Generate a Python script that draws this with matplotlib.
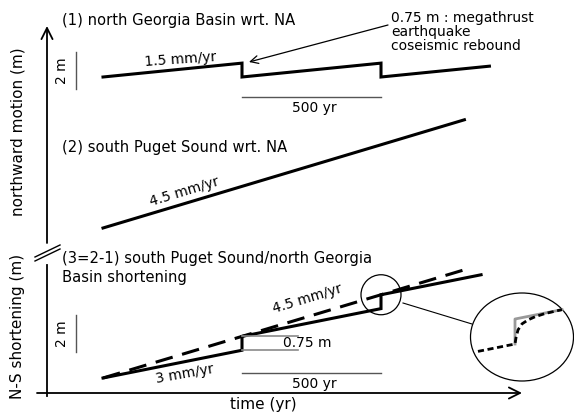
import numpy as np
import matplotlib
matplotlib.use("Agg")
import matplotlib.pyplot as plt
from matplotlib.patches import Ellipse, Circle
from matplotlib.transforms import Affine2D

# ---------------- data ----------------
rate_ngb = 1.5        # mm/yr  (1) north Georgia Basin wrt NA
rate_sps = 4.5        # mm/yr  (2) south Puget Sound wrt NA
rate_short = 3.0      # mm/yr  (3) = (2) - (1)
coseismic = 0.75      # m, megathrust coseismic rebound
eq_times = [0, 500]   # yr
t_start = -500
t_end_1 = 890
t_end_2 = 800
t_end_3 = 860
t_end_3_dashed = 800
scale_time = 500      # yr
scale_disp = 2        # m
box_len = 200         # yr, length of the 0.75 m bracket

# inset afterslip curve (time after event, fraction of step recovered)
afterslip_t = [0, 2, 6, 14, 26, 40, 60, 94]
afterslip_frac = [0, 0.24, 0.54, 0.75, 0.86, 0.93, 0.98, 1.0]
inset_pre = 74        # yr shown before event in inset

titles = ["(1) north Georgia Basin wrt. NA",
          "(2) south Puget Sound wrt. NA",
          "(3=2-1) south Puget Sound/north Georgia\nBasin shortening"]
rate_labels = ["1.5 mm/yr", "4.5 mm/yr", "4.5 mm/yr", "3 mm/yr"]
annot_text = "0.75 m : megathrust\nearthquake\ncoseismic rebound"

# ---------------- layout ----------------
W, H = 574, 416
PX_PER_YR = 0.278
T0_PX = 242
PX_PER_M = 18.5
FONT = "DejaVu Sans"

def P(x, y):
    """layout pixel -> data coordinates"""
    return ((x - T0_PX) / PX_PER_YR, (H - y) / PX_PER_M)

def sawtooth(rate, jump, t0, t1, eqs):
    ts, ys = [t0], [0.0]
    y, tp = 0.0, t0
    for te in eqs:
        if te > t1:
            break
        y += rate * 1e-3 * (te - tp)
        ts.append(te); ys.append(y)
        y += jump
        ts.append(te); ys.append(y)
        tp = te
    y += rate * 1e-3 * (t1 - tp)
    ts.append(t1); ys.append(y)
    return np.array(ts, float), np.array(ys, float)

fig = plt.figure(figsize=(W / 100, H / 100), dpi=100)
ax = fig.add_axes([0, 0, 1, 1])
ax.set_xlim(P(0, 0)[0], P(W, 0)[0])
ax.set_ylim(P(0, H)[1], P(0, 0)[1])
ax.axis("off")

base1 = P(0, 77)[1]
base2 = P(0, 228)[1]
base3 = P(0, 378)[1]

LW = 2.2
# panel 1
t1, y1 = sawtooth(rate_ngb, -coseismic, t_start, t_end_1, eq_times)
ax.plot(t1, y1 + base1, color="black", lw=LW, solid_joinstyle="miter")
# panel 2
t2, y2 = sawtooth(rate_sps, 0, t_start, t_end_2, [])
ax.plot(t2, y2 + base2, color="black", lw=LW)
# panel 3
t3, y3 = sawtooth(rate_short, coseismic, t_start, t_end_3, eq_times)
ax.plot(t3, y3 + base3, color="black", lw=LW, solid_joinstyle="miter")
t3d, y3d = sawtooth(rate_sps, 0, t_start, t_end_3_dashed, [])
ax.plot(t3d, y3d + base3, color="black", lw=LW, linestyle=(0, (5.8, 3.2)))

# 0.75 m bracket (gray)
y_pre = rate_short * 1e-3 * (eq_times[0] - t_start) + base3
for yy in (y_pre, y_pre + coseismic):
    ax.plot([eq_times[0], eq_times[0] + box_len], [yy, yy], color="#8a8a8a", lw=1.2)
ax.text(P(283, 0)[0], y_pre + coseismic / 2, "0.75 m", fontsize=10, family=FONT,
        ha="left", va="center")

# scale bars
sc_col = "#555555"
ax.plot([eq_times[0], eq_times[0] + scale_time], [P(0, 97)[1]] * 2, color=sc_col, lw=1)
ax.text(scale_time / 2 + 10, P(0, 108)[1], "500 yr", fontsize=10, family=FONT, ha="center", va="center")
ax.plot([eq_times[0], eq_times[0] + scale_time], [P(0, 373)[1]] * 2, color=sc_col, lw=1)
ax.text(scale_time / 2 + 10, P(0, 384)[1], "500 yr", fontsize=10, family=FONT, ha="center", va="center")

xb = P(76, 0)[0]
yb1 = P(0, 89)[1]
ax.plot([xb, xb], [yb1, yb1 + scale_disp], color=sc_col, lw=1)
ax.text(P(62, 0)[0], yb1 + scale_disp / 2, "2 m", rotation=90, fontsize=10, family=FONT,
        ha="center", va="center")
yb3 = P(0, 352)[1]
ax.plot([xb, xb], [yb3, yb3 + scale_disp], color=sc_col, lw=1)
ax.text(P(62, 0)[0], yb3 + scale_disp / 2, "2 m", rotation=90, fontsize=10, family=FONT,
        ha="center", va="center")

# titles
tfs = 10.6
ax.text(*P(62, 20), titles[0], fontsize=tfs, family=FONT, ha="left", va="center")
ax.text(*P(62, 147), titles[1], fontsize=tfs, family=FONT, ha="left", va="center")
ax.text(*P(62, 268), titles[2], fontsize=tfs, family=FONT, ha="left", va="center",
        linespacing=1.3)

# rate labels
rfs = 10
ax.text(*P(180, 60), rate_labels[0], fontsize=rfs, family=FONT, ha="center", va="center", rotation=4)
ax.text(*P(184, 192), rate_labels[1], fontsize=rfs, family=FONT, ha="center", va="center", rotation=17)
ax.text(*P(307, 299), rate_labels[2], fontsize=rfs, family=FONT, ha="center", va="center", rotation=17)
ax.text(*P(185, 374), rate_labels[3], fontsize=rfs, family=FONT, ha="center", va="center", rotation=10)

# annotation text and arrow
ax.text(*P(391, 32), annot_text, fontsize=10, family=FONT, ha="left", va="center",
        linespacing=1.02)
ax.annotate("", xy=P(249, 62), xytext=P(388, 25),
            arrowprops=dict(arrowstyle="->", lw=0.9, color="black",
                            mutation_scale=14, shrinkA=0, shrinkB=0))

# axes (schematic)
ax.annotate("", xy=P(47, 26), xytext=P(47, 243),
            arrowprops=dict(arrowstyle="->", lw=1.3, mutation_scale=20, shrinkA=0, shrinkB=0))
ax.plot(*zip(P(47, 265), P(47, 396)), color="black", lw=1.3)
ax.annotate("", xy=P(522, 393), xytext=P(37, 393),
            arrowprops=dict(arrowstyle="->", lw=1.3, mutation_scale=20, shrinkA=0, shrinkB=0))
for off in (0, 4):
    ax.plot(*zip(P(35, 257 + off), P(60, 245 + off)), color="black", lw=1)

ax.text(*P(18, 132), "northward motion (m)", rotation=90, fontsize=11, family=FONT, ha="center", va="center")
ax.text(*P(18, 326), "N-S shortening (m)", rotation=90, fontsize=11, family=FONT, ha="center", va="center")
ax.text(*P(263, 405), "time (yr)", fontsize=11, family=FONT, ha="center", va="center")

# zoom circle around second event
t_eq2 = eq_times[1]
y_eq2_pre = base3 + rate_short * 1e-3 * (t_eq2 - t_start) + coseismic
y_eq2_post = y_eq2_pre + coseismic
cx, cy = ax.transData.transform((t_eq2, y_eq2_post))
circ = Circle((cx, cy), 20, transform=None, fill=False, lw=0.9, ec="black")
fig.add_artist(circ)
# big inset ellipse
ell_c = P(522, 337)
ell = Ellipse(ell_c, 103 / PX_PER_YR, 88 / PX_PER_M, fill=False, lw=0.9, ec="black")
ax.add_patch(ell)
ax.plot(*zip(P(403, 303), P(472, 324)), color="black", lw=0.8)

# inset: magnified view of second step
k = 1.8
bx, by = P(515, 344)
inset_tr = Affine2D().translate(-t_eq2, -y_eq2_pre).scale(k, k).translate(bx, by) + ax.transData
tt_pre = np.array([t_eq2 - inset_pre, t_eq2])
yy_pre = y_eq2_pre + rate_short * 1e-3 * (tt_pre - t_eq2)
ta = t_eq2 + np.array(afterslip_t, float)
tg = np.concatenate([[t_eq2], ta])
yg = np.concatenate([[y_eq2_pre], y_eq2_pre + coseismic + rate_short * 1e-3 * (ta - t_eq2)])
ax.plot(tg, yg, color="#999999", lw=2.0, transform=inset_tr)
td = np.concatenate([tt_pre, ta])
yd = np.concatenate([yy_pre, y_eq2_pre + coseismic * np.array(afterslip_frac)
                     + rate_short * 1e-3 * (ta - t_eq2)])
ax.plot(td, yd, color="black", lw=2.0, linestyle=(0, (2.2, 1.3)), transform=inset_tr)

fig.savefig("out.png", dpi=100)
